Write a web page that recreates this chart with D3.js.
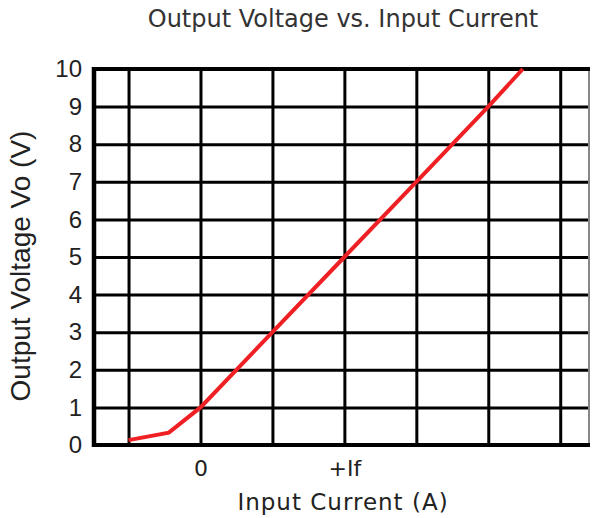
<!DOCTYPE html>
<html><head><meta charset="utf-8">
<script src="https://cdn.jsdelivr.net/npm/d3@7"></script>
<style>body{margin:0;background:#fff}svg{display:block}</style>
</head><body>
<svg id="c" width="592" height="518"></svg>
<script>
// Data
const currentX = [-0.5, -0.22, 0, 0.5, 1, 1.5, 2, 2.24];
const voltageY = [0.13, 0.33, 1, 3, 5, 7, 9, 10];
const yTicks = [0,1,2,3,4,5,6,7,8,9,10];
const xGrid = [-0.5, 0, 0.5, 1, 1.5, 2, 2.5];
const xTickVals = [0, 1];
const xTickLabels = ["0", "+If"];
const titleText = "Output Voltage vs. Input Current";
const xTitle = "Input Current (A)";
const yTitle = "Output Voltage Vo (V)";

const svg = d3.select("#c");
const L = 94, R = 589, T = 69, B = 445;
const x = d3.scaleLinear().domain([-0.74, 2.7]).range([L, R]);
const y = d3.scaleLinear().domain([0, 10]).range([B, T]);

// grid verticals
svg.append("g").attr("transform", `translate(0,${B})`)
  .call(d3.axisBottom(x).tickValues(xGrid).tickSize(-(B - T)).tickFormat(""))
  .call(g => g.select(".domain").remove())
  .selectAll("line").attr("stroke", "#000").attr("stroke-width", 3);

// grid horizontals
svg.append("g").attr("transform", `translate(${L},0)`)
  .call(d3.axisRight(y).tickValues(yTicks.slice(1, -1)).tickSize(R - 1 - L).tickFormat(""))
  .call(g => g.select(".domain").remove())
  .selectAll("line").attr("stroke", "#000").attr("stroke-width", 3);

// right border (thin grey)
svg.append("line").attr("x1", R).attr("x2", R).attr("y1", T).attr("y2", B)
  .attr("stroke", "#888").attr("stroke-width", 2);
// top border
svg.append("line").attr("x1", L).attr("x2", R + 1).attr("y1", y(10)).attr("y2", y(10))
  .attr("stroke", "#000").attr("stroke-width", 4);
// bottom axis
svg.append("line").attr("x1", L - 2).attr("x2", R + 1).attr("y1", B).attr("y2", B)
  .attr("stroke", "#000").attr("stroke-width", 4);
// left axis
svg.append("line").attr("x1", L).attr("x2", L).attr("y1", T - 2).attr("y2", B + 2)
  .attr("stroke", "#000").attr("stroke-width", 4.5);

// y tick labels
const ya = svg.append("g").attr("transform", `translate(${L},0)`)
  .call(d3.axisLeft(y).tickValues(yTicks).tickSize(0).tickPadding(12).tickFormat(d3.format("d")));
ya.select(".domain").remove();
ya.selectAll("text").attr("font-family", "Liberation Sans, Arial, sans-serif")
  .attr("font-size", 24).attr("fill", "#222");

// x tick labels
const xa = svg.append("g").attr("transform", `translate(0,${B})`)
  .call(d3.axisBottom(x).tickValues(xTickVals).tickSize(0).tickPadding(15)
    .tickFormat((d, i) => xTickLabels[i]));
xa.select(".domain").remove();
xa.selectAll("text").attr("font-family", "DejaVu Sans, Verdana, sans-serif")
  .attr("font-size", 22).attr("fill", "#222");

// line
const pts = currentX.map((v, i) => [v, voltageY[i]]);
svg.append("path").datum(pts)
  .attr("fill", "none").attr("stroke", "#ee2024").attr("stroke-width", 4)
  .attr("stroke-linejoin", "miter")
  .attr("d", d3.line().x(d => x(d[0])).y(d => y(d[1])));

// titles
svg.append("text").attr("x", 343).attr("y", 27).attr("text-anchor", "middle")
  .attr("font-family", "DejaVu Sans, Verdana, sans-serif").attr("font-size", 24)
  .attr("fill", "#333").text(titleText);
svg.append("text").attr("x", 343).attr("y", 510).attr("text-anchor", "middle")
  .attr("font-family", "DejaVu Sans, Verdana, sans-serif").attr("font-size", 23)
  .attr("letter-spacing", 1).attr("fill", "#222").text(xTitle);
svg.append("text").attr("transform", "translate(30,266) rotate(-90)").attr("text-anchor", "middle")
  .attr("font-family", "Liberation Sans, Arial, sans-serif").attr("font-size", 28)
  .attr("fill", "#222").text(yTitle);
</script>
</body></html>
